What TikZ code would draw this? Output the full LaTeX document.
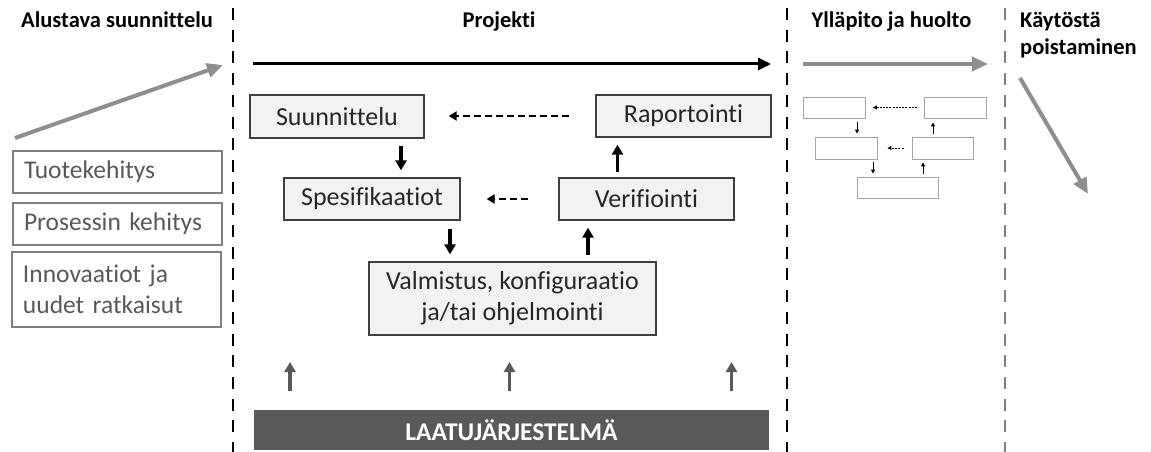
\documentclass[tikz,border=0pt]{standalone}
\usepackage{fontspec}
\setmainfont[Ligatures={NoCommon}]{Carlito}
\usetikzlibrary{arrows.meta}
\definecolor{arrgray}{HTML}{8E8E8E}
\definecolor{bardark}{HTML}{595959}
\definecolor{boxfill}{HTML}{F2F2F2}
\definecolor{boxline}{HTML}{3F3F3F}
\definecolor{softgray}{HTML}{7F7F7F}
\definecolor{minigray}{HTML}{A6A6A6}
\begin{document}
\begin{tikzpicture}[x=1pt,y=-1pt,
  phase/.style={font=\fontsize{22.5}{27}\selectfont\bfseries, inner sep=0, text=black},
  stepbox/.style={draw=boxline, line width=1.3, fill=boxfill, inner sep=0,
    font=\fontsize{26}{31}\selectfont, text=black!85, align=center},
  leftbox/.style={draw=softgray, line width=1.2, fill=white, inner xsep=11, inner ysep=0,
    text width=187, align=left, font=\fontsize{25.5}{31}\selectfont, text=black!65},
  minibox/.style={draw=minigray, line width=0.9, fill=white, inner sep=0},
  divider/.style={line width=2.8, dash pattern=on 12 off 9.7},
  flowarrow/.style={line width=3.6, -{Triangle[length=10,width=11]}},
  backarrow/.style={line width=2.2, dash pattern=on 7 off 4, -{Triangle[length=8,width=9]}},
  grayarrow/.style={arrgray, line width=4, -{Triangle[length=16,width=14]}},
  qarrow/.style={bardark, line width=3.6, -{Triangle[length=10,width=11]}},
  miniarrow/.style={line width=1, -{Triangle[length=4,width=4]}},
  minidash/.style={line width=1, dash pattern=on 2 off 1.2, -{Triangle[length=4,width=4]}}
]
\useasboundingbox (0,0) rectangle (1151,452);

% phase dividers
\coordinate (d1t) at (233,8);   \coordinate (d1b) at (233,452);
\coordinate (d2t) at (787,8);   \coordinate (d2b) at (787,452);
\coordinate (d3t) at (1005,8);  \coordinate (d3b) at (1005,452);
\draw[divider] (d1t) -- (d1b);
\draw[divider] (d2t) -- (d2b);
\draw[divider, softgray, line width=1.8] (d3t) -- (d3b);

% phase headings
\node[phase, anchor=base west] (h1) at (21,28) {Alustava suunnittelu};
\node[phase, anchor=base] (h2) at (499,28) {Projekti};
\node[phase, anchor=base] (h3) at (891.5,28) {Ylläpito ja huolto};
\node[phase, anchor=base west, align=left] (h4) at (1020,55) {Käytöstä\\poistaminen};

% phase arrows
\coordinate (g1a) at (15,138);  \coordinate (g1b) at (223,65);
\coordinate (p1a) at (253,64);  \coordinate (p1b) at (771,64);
\coordinate (g2a) at (803,64);  \coordinate (g2b) at (988,64);
\coordinate (g3a) at (1020,78); \coordinate (g3b) at (1088,194);
\draw[grayarrow] (g1a) -- (g1b);
\draw[line width=3, -{Triangle[length=13,width=12]}] (p1a) -- (p1b);
\draw[grayarrow] (g2a) -- (g2b);
\draw[grayarrow] (g3a) -- (g3b);

% preliminary design topics
\node[leftbox, minimum height=42] (tk) at (117.5,172) {Tuotekehitys};
\node[leftbox, minimum height=42] (pk) at (117.5,224) {Prosessin kehitys};
\node[leftbox, minimum height=75] (in) at (116.5,289.5) {Innovaatiot ja\\uudet ratkaisut};

% project steps
\node[stepbox, minimum width=174, minimum height=43] (suun) at (337,116.5) {Suunnittelu};
\node[stepbox, minimum width=175, minimum height=42] (rap) at (683.5,116) {Raportointi};
\node[stepbox, minimum width=176, minimum height=42] (spes) at (372,199) {Spesifikaatiot};
\node[stepbox, minimum width=175, minimum height=42] (ver) at (646.5,199) {Verifiointi};
\node[stepbox, minimum width=287, minimum height=73] (val) at (512.5,298.5) {Valmistus, konfiguraatio\\ja/tai ohjelmointi};

\draw[flowarrow, shorten <=7, shorten >=7] ([xshift=64]suun.south) -- ([xshift=29]spes.north);
\draw[flowarrow, shorten <=8, shorten >=7] ([xshift=78]spes.south) -- ([xshift=-62.5]val.north);
\draw[flowarrow, shorten <=6, shorten >=7] ([xshift=75.5]val.north) -- ([xshift=-58.5]ver.south);
\draw[flowarrow, shorten <=5, shorten >=7] ([xshift=-29]ver.north) -- ([xshift=-66]rap.south);
\draw[backarrow, shorten <=26, shorten >=24] (rap.west) -- (suun.east |- rap.west);
\draw[backarrow, shorten <=30, shorten >=26] (ver.west) -- (spes.east);

% quality system
\node[fill=bardark, minimum width=515, minimum height=40, inner sep=0,
  font=\fontsize{25.5}{30}\selectfont\bfseries, text=white] (qs) at (511.5,430) {LAATUJÄRJESTELMÄ};
\coordinate (q1) at (290,362); \coordinate (q2) at (509.5,362); \coordinate (q3) at (731.5,362);
\draw[qarrow, shorten <=19] (qs.north -| q1) -- (q1);
\draw[qarrow, shorten <=19] (qs.north -| q2) -- (q2);
\draw[qarrow, shorten <=19] (qs.north -| q3) -- (q3);

% miniature of the project cycle
\node[minibox, minimum width=62, minimum height=21] (m1) at (834.5,107.5) {};
\node[minibox, minimum width=62, minimum height=21] (m2) at (955.5,107.5) {};
\node[minibox, minimum width=62, minimum height=22] (m3) at (846,148) {};
\node[minibox, minimum width=61, minimum height=22] (m4) at (942.5,148) {};
\node[minibox, minimum width=81, minimum height=21] (m5) at (897.5,187.5) {};
\coordinate (mx1) at (857,0); \coordinate (mx2) at (933,0);
\coordinate (mx3) at (873,0); \coordinate (mx4) at (923,0);
\draw[miniarrow, shorten <=4, shorten >=3] (m1.south -| mx1) -- (m3.north -| mx1);
\draw[miniarrow, shorten <=3, shorten >=4] (m4.north -| mx2) -- (m2.south -| mx2);
\draw[miniarrow, shorten <=3, shorten >=3] (m3.south -| mx3) -- (m5.north -| mx3);
\draw[miniarrow, shorten <=3, shorten >=3] (m5.north -| mx4) -- (m4.south -| mx4);
\draw[minidash, shorten <=7, shorten >=7] (m2.west) -- (m1.east);
\draw[minidash, shorten <=8, shorten >=10] (m4.west) -- (m3.east);
\end{tikzpicture}
\end{document}
